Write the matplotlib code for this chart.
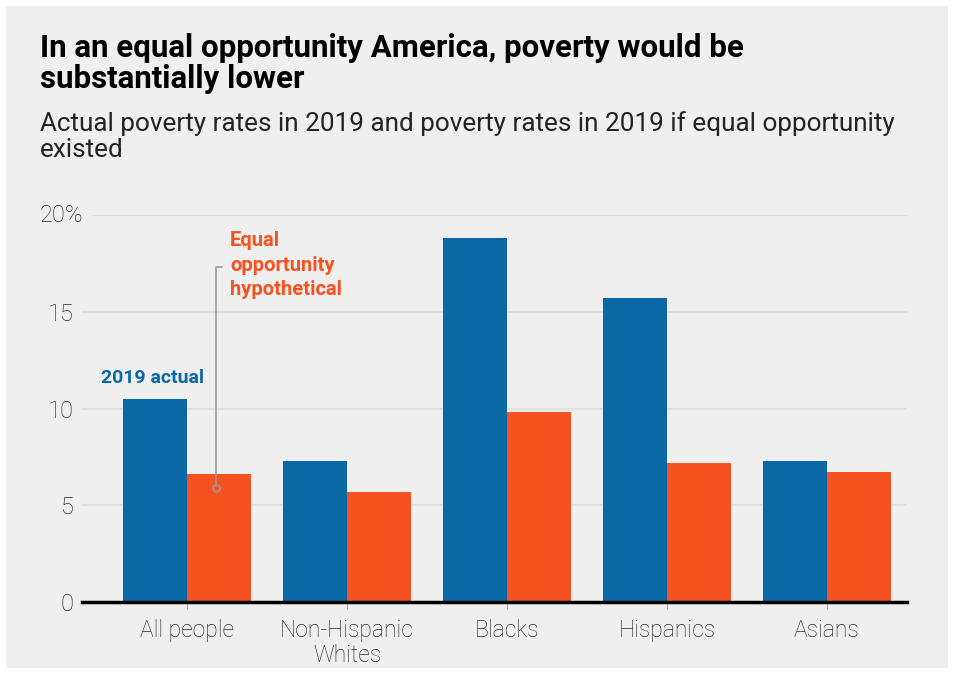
import matplotlib.pyplot as plt
import numpy as np
from matplotlib.patches import Rectangle

# --- Data ---
categories = ["All people", "Non-Hispanic\nWhites", "Blacks", "Hispanics", "Asians"]
actual_2019 = [10.5, 7.3, 18.8, 15.7, 7.3]
equal_opportunity = [6.6, 5.7, 9.8, 7.2, 6.7]
y_ticks = [0, 5, 10, 15, 20]
y_tick_labels = ["0", "5", "10", "15", "20%"]

BLUE = "#0b68a6"
ORANGE = "#f5521f"
BG = "#efefef"
TICK_GRAY = "#262626"

plt.rcParams["font.family"] = ["Roboto", "DejaVu Sans"]

fig = plt.figure(figsize=(9.54, 6.74), dpi=100)
fig.patch.set_facecolor("white")
# gray panel with white border
fig.add_artist(Rectangle((6 / 954, 6 / 674), 942 / 954, 662 / 674,
                         transform=fig.transFigure, facecolor=BG,
                         edgecolor="none", zorder=0))

# y=0 sits at ~602px and y=20 at ~215px
ax = fig.add_axes([82 / 954, (674 - 602) / 674, (907 - 82) / 954, (602 - 215) / 674])
ax.set_facecolor(BG)

x = np.arange(len(categories))
w = 0.4
ax.bar(x - w / 2, actual_2019, width=w, color=BLUE, zorder=3)
ax.bar(x + w / 2, equal_opportunity, width=w, color=ORANGE, zorder=3)
ax.set_xlim(-0.656, 4.5)
ax.set_ylim(0, 20)

# gridlines (top one starts after the "20%" label)
for t in y_ticks[1:]:
    start = 0.012 if t == y_ticks[-1] else 0.0
    ax.axhline(t, xmin=start, xmax=1, color="#dddddd", linewidth=1.2, zorder=0)

# y labels: numbers right-aligned, the "%" hangs out to the right
ax.set_yticks(y_ticks)
ax.set_yticklabels(y_tick_labels[:-1] + [""])
ax.tick_params(axis="y", length=0, pad=6, labelsize=17, labelcolor=TICK_GRAY)
ax.text(40 / 954, y_ticks[-1], y_tick_labels[-1],
        transform=ax.get_yaxis_transform().__class__(fig.transFigure, ax.transData),
        fontsize=17, fontweight="light", color=TICK_GRAY, ha="left", va="center")

ax.set_xticks(x)
ax.set_xticklabels(categories, linespacing=1.15)
ax.tick_params(axis="x", length=5, color="#aaaaaa", pad=7, labelsize=16.5,
               labelcolor=TICK_GRAY)
for lbl in ax.get_xticklabels() + ax.get_yticklabels():
    lbl.set_fontweight("light")

for side in ["top", "right", "left"]:
    ax.spines[side].set_visible(False)
ax.spines["bottom"].set_linewidth(2.5)
ax.spines["bottom"].set_color("black")
ax.spines["bottom"].set_zorder(4)

# --- Annotations ---
ax.text(-0.54, 11.6, "2019 actual", color=BLUE, fontsize=14, fontweight="bold",
        ha="left", va="center")
ax.text(0.27, 17.4, "Equal\nopportunity\nhypothetical", color=ORANGE, fontsize=14.5,
        fontweight="bold", ha="left", va="center", linespacing=1.36)
ax.plot([0.18, 0.18, 0.22], [5.9, 17.3, 17.3], color="#999999", linewidth=1.2, zorder=5)
ax.plot([0.18], [5.9], marker="o", markersize=5, markerfacecolor=ORANGE,
        markeredgecolor="#999999", markeredgewidth=1.2, zorder=6)

# --- Titles ---
fig.text(40 / 954, 1 - 63.5 / 674, "In an equal opportunity America, poverty would be\nsubstantially lower",
         fontsize=22.5, fontweight="bold", ha="left", va="center", color="black",
         linespacing=1.08)
fig.text(40 / 954, 1 - 136.5 / 674,
         "Actual poverty rates in 2019 and poverty rates in 2019 if equal opportunity\nexisted",
         fontsize=18.8, ha="left", va="center", color="#222222", linespacing=1.12)

fig.savefig("out.png", dpi=100, facecolor=fig.get_facecolor())
